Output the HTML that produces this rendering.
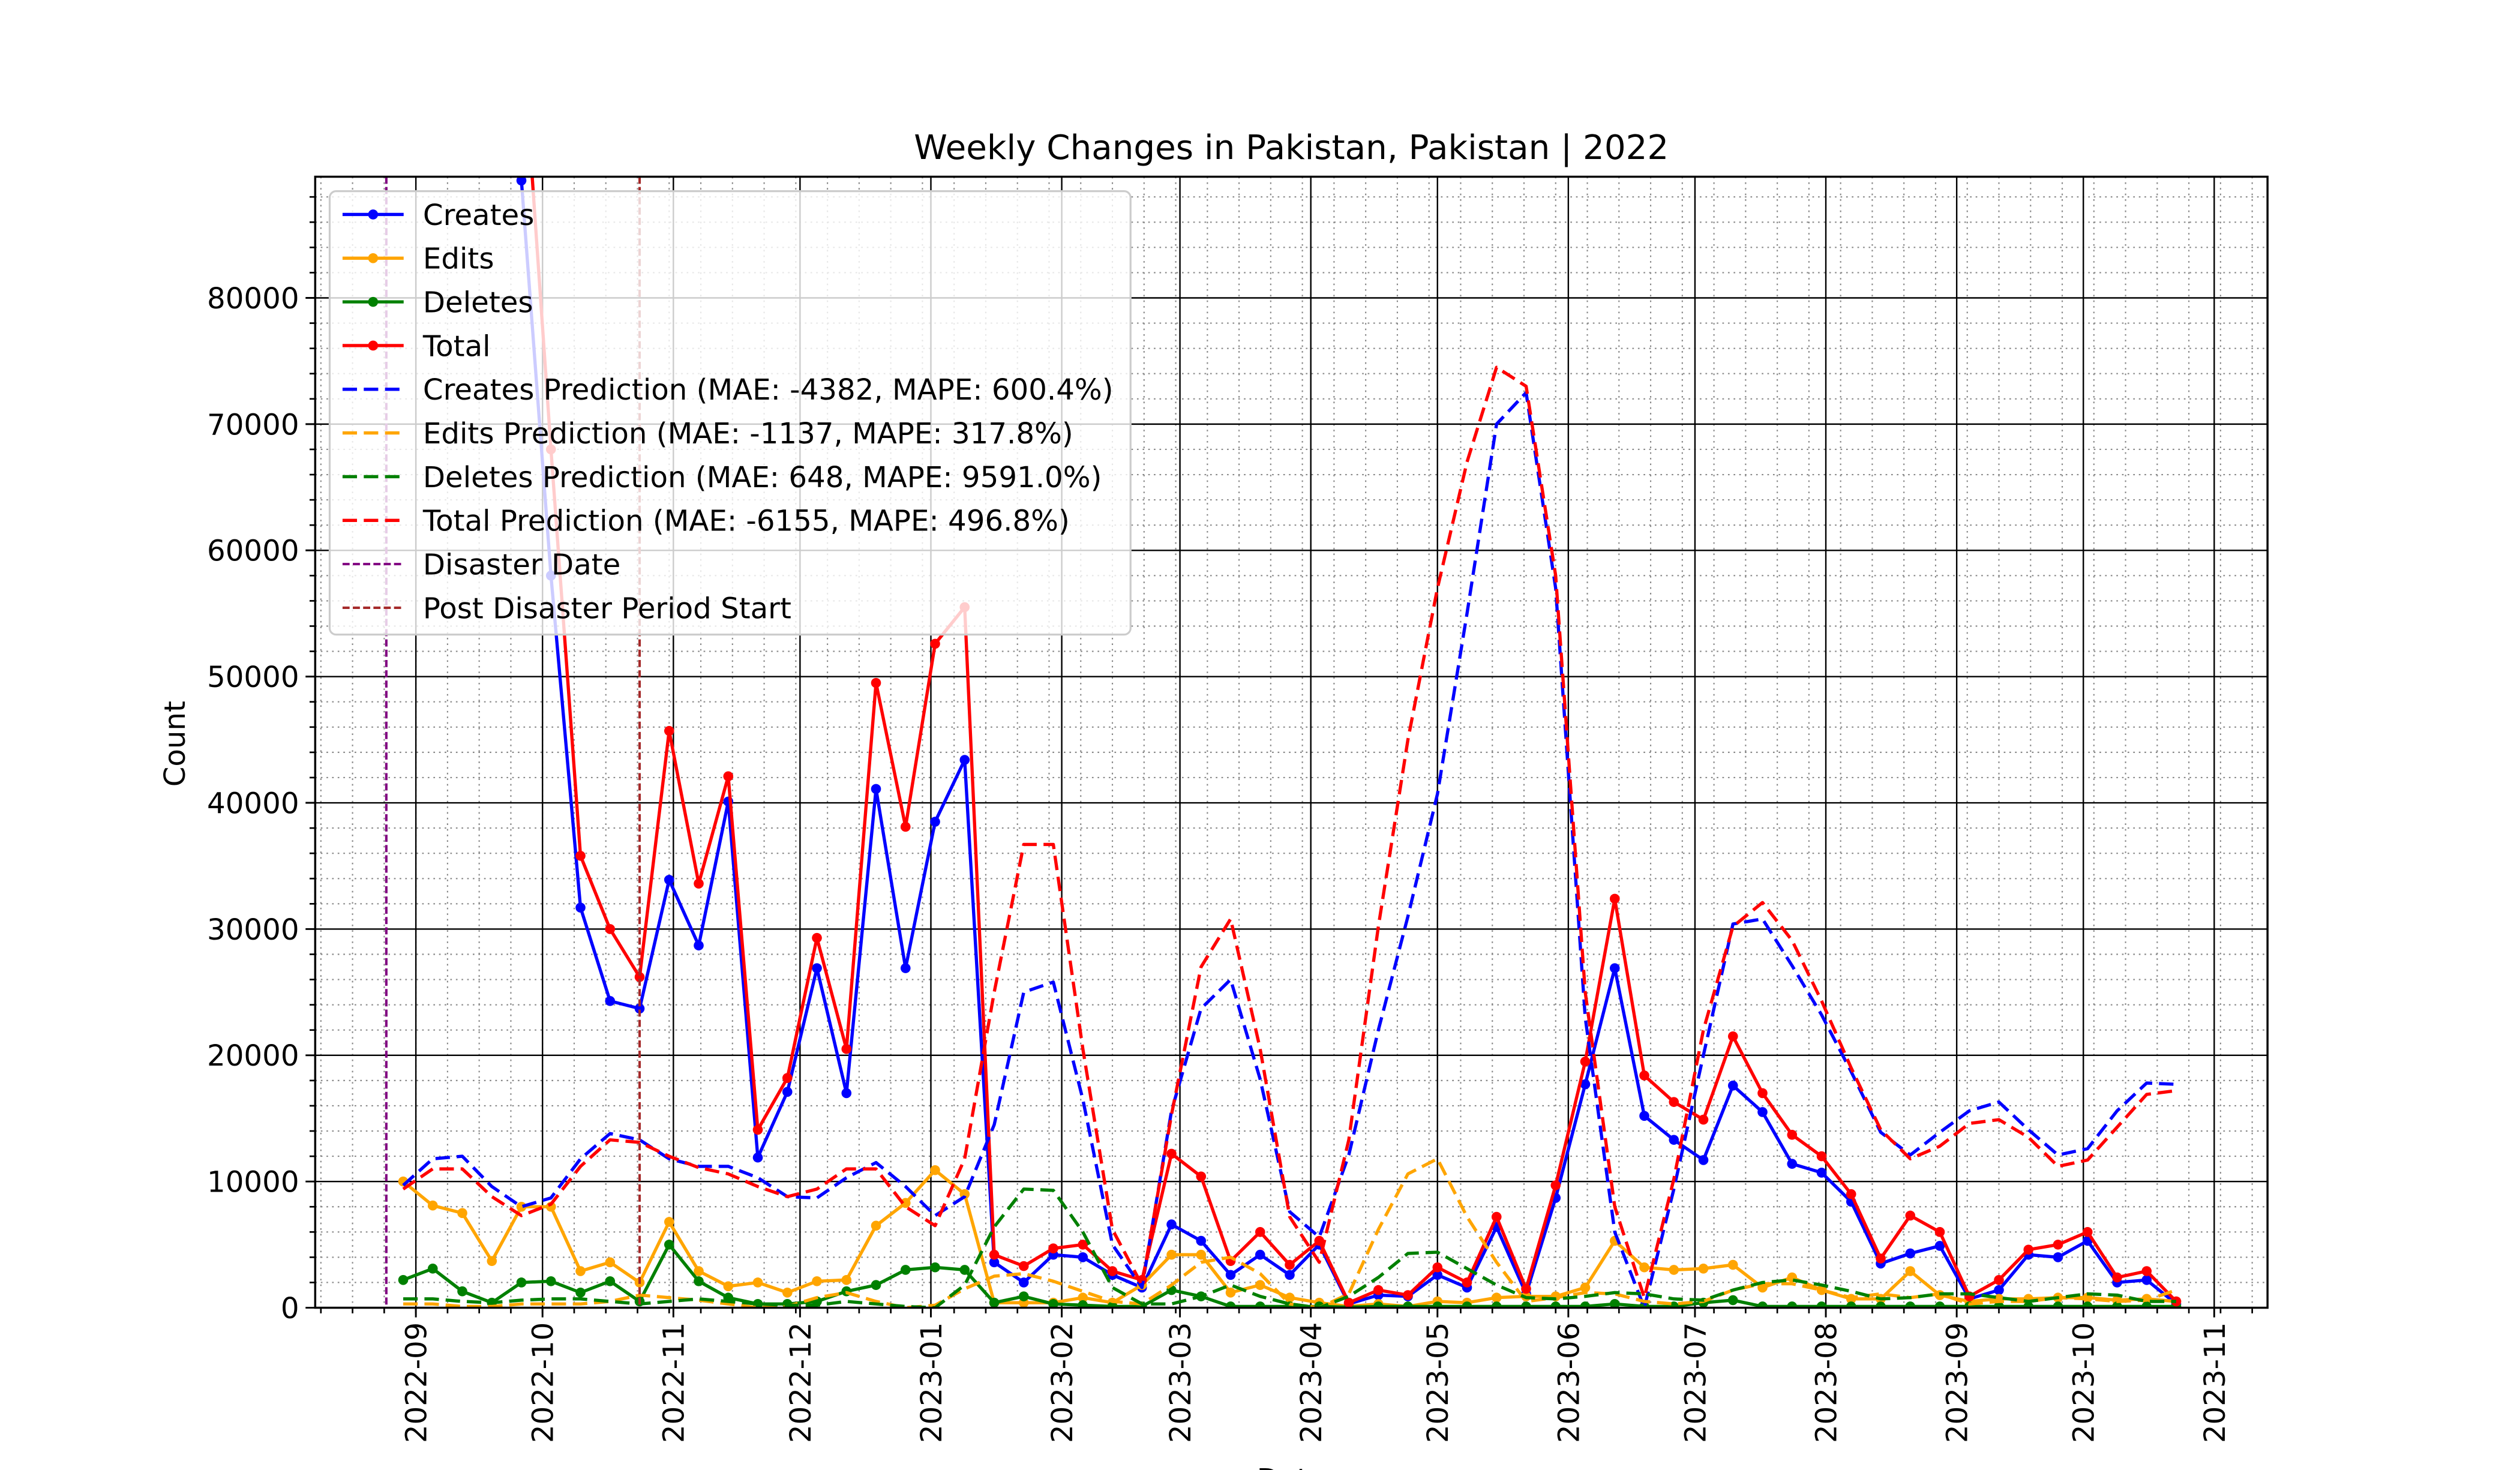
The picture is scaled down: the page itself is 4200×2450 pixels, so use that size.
<!DOCTYPE html>
<html>
<head>
<meta charset="utf-8">
<style>
  html,body{margin:0;padding:0;background:#fff;}
  svg{display:block;}
  text{font-family:"DejaVu Sans","Liberation Sans",sans-serif;fill:#000;}
</style>
</head>
<body>
<svg id="chart" xmlns="http://www.w3.org/2000/svg" width="4200" height="2450" viewBox="0 0 1567 915" preserveAspectRatio="none">
  <rect x="0" y="0" width="1567" height="915" fill="#fff"/>
  <defs><clipPath id="plotclip"><rect x="196" y="110" width="1214" height="704"/></clipPath></defs>
  <g id="grid"></g>
  <g id="series" clip-path="url(#plotclip)"></g>
  <g id="axes"></g>
  <g id="legend"></g>
  <text x="803" y="99" font-size="21" text-anchor="middle">Weekly Changes in Pakistan, Pakistan | 2022</text>
  <text x="0" y="0" font-size="18" text-anchor="middle" transform="translate(115,463) rotate(-90)">Count</text>
  <text x="803" y="927" font-size="18" text-anchor="middle">Date</text>
</svg>
<script>
const startDate = "2022-08-29";
const monthTicks = ["2022-09","2022-10","2022-11","2022-12","2023-01","2023-02","2023-03","2023-04","2023-05","2023-06","2023-07","2023-08","2023-09","2023-10","2023-11"];
const yTicks = [0,10000,20000,30000,40000,50000,60000,70000,80000];
const disasterDate = "2022-08-25";
const postDisasterDate = "2022-10-24";
const creates = [null,null,null,null,89300,58000,31700,24300,23700,33900,28700,40100,11900,17100,26900,17000,41100,26900,38500,43400,3600,2000,4200,4000,2600,1600,6600,5300,2600,4200,2600,5000,300,1000,900,2600,1600,6400,1100,8700,17700,26900,15200,13300,11700,17600,15500,11400,10700,8400,3500,4300,4900,700,1400,4200,4000,5300,2000,2200,300];
const edits = [10000,8100,7500,3700,8000,8000,2900,3600,2000,6800,2900,1700,2000,1200,2100,2200,6500,8300,10900,9000,400,400,400,800,400,1800,4200,4200,1200,1800,800,400,100,300,100,500,400,800,900,900,1600,5300,3200,3000,3100,3400,1600,2400,1400,700,700,2900,1000,500,700,700,800,800,600,700,500];
const deletes = [2200,3100,1300,400,2000,2100,1200,2100,500,5000,2100,800,300,300,500,1300,1800,3000,3200,3000,400,900,300,200,100,100,1400,900,100,100,100,100,50,100,100,100,100,100,100,100,100,300,100,100,400,600,100,100,100,100,100,100,100,100,100,100,100,100,100,100,100];
const total = [null,null,null,null,102000,68000,35800,30000,26200,45700,33600,42100,14100,18200,29300,20500,49500,38100,52600,55500,4200,3300,4700,5000,2900,2200,12200,10400,3700,6000,3400,5300,400,1400,1000,3200,2000,7200,1500,9700,19500,32400,18400,16300,14900,21500,17000,13700,12000,9000,3900,7300,6000,900,2200,4600,5000,6000,2400,2900,500];
const createsPred = [9700,11800,12000,9600,8000,8700,11800,13800,13300,11800,11200,11200,10300,8800,8700,10300,11500,9600,7300,8800,14500,25000,25800,16500,5000,1600,15600,23700,26000,18100,7600,5600,12100,22000,31000,40700,55000,70000,72500,57000,23000,6000,0,9400,20000,30400,30800,27100,23200,18700,13900,12100,13900,15600,16300,14100,12100,12600,15600,17800,17700];
const editsPred = [300,300,100,100,300,300,300,500,1000,800,600,300,0,100,800,1200,500,0,200,1500,2500,2700,2100,1300,500,300,1800,3600,4000,2700,300,0,1100,6200,10600,11800,7200,3600,500,800,1200,1100,500,300,500,1400,1900,1900,1400,800,1100,800,1100,300,500,500,800,700,500,600,1400];
const deletesPred = [700,700,500,400,600,700,700,500,300,500,700,500,300,200,200,500,300,100,0,1800,6400,9400,9300,6000,1600,300,300,900,1800,900,300,0,900,2400,4300,4400,3100,1800,800,700,900,1200,1100,700,600,1400,2000,2200,1800,1300,700,800,1100,1100,800,500,800,1100,1000,500,500];
const totalPred = [9400,11000,11000,8800,7300,8200,11200,13300,13100,12000,11100,10600,9600,8800,9400,11000,11000,8000,6500,11800,25000,36700,36700,20500,6200,1800,15300,27000,30800,20500,7200,3600,13300,30200,45000,57000,67000,74500,73000,58000,25000,8000,800,10200,22000,30200,32100,29100,24300,19000,14100,11800,12800,14600,14900,13500,11200,11700,14300,16900,17200];

const NS = "http://www.w3.org/2000/svg";
const L = 196, R = 1410, T = 110, B = 814, YMAX = 89600;
const ORIGIN = Date.UTC(2022, 8, 1);
const PX_PER_DAY = 2.625, X0 = 258.6;
const DASH = "9,4.2";
function parseDay(s) { const p = s.split("-").map(Number); return (Date.UTC(p[0], p[1]-1, p[2]||1) - ORIGIN) / 86400000; }
function xScale(day) { return X0 + day * PX_PER_DAY; }
function yScale(v) { return B - v / YMAX * (B - T); }
function mk(tag, attrs, parent) { const e = document.createElementNS(NS, tag); for (const k in attrs) e.setAttribute(k, attrs[k]); parent.appendChild(e); return e; }

const grid = document.getElementById("grid");
const axes = document.getElementById("axes");
const series = document.getElementById("series");
const legend = document.getElementById("legend");

const minorStep = 30 * PX_PER_DAY / 4;
for (let x = X0 - Math.floor((X0 - L) / minorStep) * minorStep; x <= R; x += minorStep) {
  const g = mk("line", {x1:x, x2:x, y1:T, y2:B, stroke:"#888", "stroke-width":0.8, "stroke-dasharray":"1,2.5"}, grid);
  
  
  const t = mk("line", {x1:x, x2:x, y1:B, y2:B+3.5, stroke:"#000", "stroke-width":1}, axes);
  
  
}
for (let v = 2000; v < YMAX; v += 2000) {
  if (v % 10000 === 0) continue;
  const y = yScale(v);
  const g = mk("line", {x1:L, x2:R, y1:y, y2:y, stroke:"#888", "stroke-width":0.8, "stroke-dasharray":"1,2.5"}, grid);
  
  
  const t = mk("line", {x1:L-3.5, x2:L, y1:y, y2:y, stroke:"#000", "stroke-width":1}, axes);
  
  
}
monthTicks.forEach(m => {
  const x = xScale(parseDay(m));
  const g = mk("line", {x1:x, x2:x, y1:T, y2:B, stroke:"#000", "stroke-width":0.9}, grid);
  
  
  const t = mk("line", {x1:x, x2:x, y1:B, y2:B+6, stroke:"#000", "stroke-width":1.1}, axes);
  
  
  const lb = mk("text", {x:0, y:0, "font-size":18, "text-anchor":"end", transform:"translate(" + (x+6.5) + "," + (B+9) + ") rotate(-90)"}, axes);
  lb.textContent = m;
  
  
});
yTicks.forEach(v => {
  const y = yScale(v);
  const g = mk("line", {x1:L, x2:R, y1:y, y2:y, stroke:"#000", "stroke-width":0.9}, grid);
  
  
  const t = mk("line", {x1:L-6, x2:L, y1:y, y2:y, stroke:"#000", "stroke-width":1.1}, axes);
  
  
  const lb = mk("text", {x:L-10, y:y+6.5, "font-size":18, "text-anchor":"end"}, axes);
  lb.textContent = String(v);
  
  
});
const frame = mk("rect", {x:L, y:T, width:R-L, height:B-T, fill:"none", stroke:"#000", "stroke-width":1.3}, axes);



const startDay = parseDay(startDate);
function xi(i) { return xScale(startDay + 7 * i); }
function drawSeries(vals, color, dashed, markers, name) {
  const g = mk("g", {}, series);
  
  
  let d = "", pen = false;
  vals.forEach((v, i) => {
    if (v === null) { pen = false; return; }
    d += (pen ? "L" : "M") + xi(i).toFixed(2) + "," + yScale(v).toFixed(2);
    pen = true;
  });
  const p = mk("path", {d:d, fill:"none", stroke:color, "stroke-width":2, "stroke-linejoin":"round"}, g);
  if (dashed) p.setAttribute("stroke-dasharray", DASH);
  
  
  if (markers) {
    vals.forEach((v, i) => {
      if (v === null) return;
      const c = mk("circle", {cx:xi(i), cy:yScale(v), r:3.1, fill:color}, g);
      
      
    });
  }
}
drawSeries(creates, "#0000ff", false, true, "creates-series");
drawSeries(edits, "#ffa500", false, true, "edits-series");
drawSeries(deletes, "#008000", false, true, "deletes-series");
drawSeries(total, "#ff0000", false, true, "total-series");
drawSeries(createsPred, "#0000ff", true, false, "creates-prediction");
drawSeries(editsPred, "#ffa500", true, false, "edits-prediction");
drawSeries(deletesPred, "#008000", true, false, "deletes-prediction");
drawSeries(totalPred, "#ff0000", true, false, "total-prediction");

function vline(dateStr, color, name) {
  const x = xScale(parseDay(dateStr));
  const l = mk("line", {x1:x, x2:x, y1:T, y2:B, stroke:color, "stroke-width":1.5, "stroke-dasharray":"4.4,2"}, series);
  
  
}
vline(disasterDate, "#800080", "disaster-date-line");
vline(postDisasterDate, "#a52a2a", "post-disaster-start-line");

const lbox = mk("rect", {x:205, y:119, width:498, height:276, rx:4, fill:"#fff", "fill-opacity":0.8, stroke:"#cccccc", "stroke-width":1.2}, legend);


const legendLabels = ["Creates","Edits","Deletes","Total","Creates Prediction (MAE: -4382, MAPE: 600.4%)","Edits Prediction (MAE: -1137, MAPE: 317.8%)","Deletes Prediction (MAE: 648, MAPE: 9591.0%)","Total Prediction (MAE: -6155, MAPE: 496.8%)","Disaster Date","Post Disaster Period Start"];
const legendColors = ["#0000ff","#ffa500","#008000","#ff0000","#0000ff","#ffa500","#008000","#ff0000","#800080","#a52a2a"];
legendLabels.forEach((lab, k) => {
  const y = 133.5 + k * 27.2;
  const g = mk("g", {}, legend);
  
  
  const ln = mk("line", {x1:213, x2:251, y1:y, y2:y, stroke:legendColors[k], "stroke-width": k >= 8 ? 1.5 : 2}, g);
  if (k >= 8) ln.setAttribute("stroke-dasharray", "4.4,2");
  else if (k >= 4) ln.setAttribute("stroke-dasharray", DASH);
  
  
  if (k < 4) {
    const c = mk("circle", {cx:232, cy:y, r:3.1, fill:legendColors[k]}, g);
    
    
  }
  const t = mk("text", {x:263, y:y+6.5, "font-size":18}, g);
  t.textContent = lab;
  
  
});
</script>
</body>
</html>
